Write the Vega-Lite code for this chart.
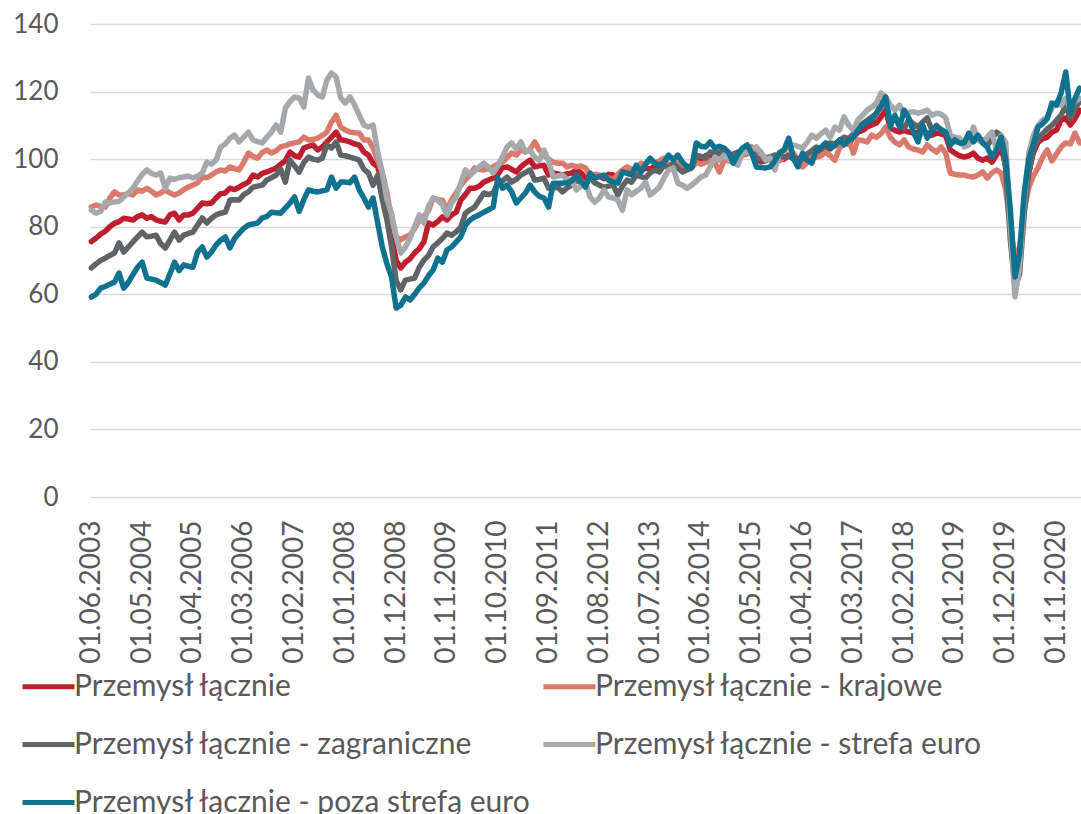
{
  "$schema": "https://vega.github.io/schema/vega-lite/v6.json",
  "autosize": {"type": "none"},
  "padding": {"left": 90, "top": 24, "right": 0, "bottom": 317},
  "width": 991,
  "height": 473,
  "background": "white",
  "config": {"font": "Lato", "view": {"stroke": null}},
  "data": {"values": [
{"d":"01.06.2003","t":75.6,"k":85.8,"z":67.8,"s":84.9,"p":59.2},
{"d":"01.07.2003","t":76.6,"k":86.4,"z":69.0,"s":84.0,"p":60.0},
{"d":"01.08.2003","t":77.8,"k":86.0,"z":70.0,"s":84.5,"p":61.8},
{"d":"01.09.2003","t":78.6,"k":85.8,"z":70.7,"s":87.3,"p":62.3},
{"d":"01.10.2003","t":80.0,"k":88.5,"z":71.5,"s":87.0,"p":63.0},
{"d":"01.11.2003","t":81.0,"k":90.3,"z":72.2,"s":87.3,"p":63.6},
{"d":"01.12.2003","t":81.5,"k":89.4,"z":75.2,"s":87.5,"p":66.3},
{"d":"01.01.2004","t":82.5,"k":89.4,"z":72.5,"s":88.8,"p":61.8},
{"d":"01.02.2004","t":82.3,"k":89.8,"z":74.0,"s":90.0,"p":63.5},
{"d":"01.03.2004","t":82.0,"k":89.4,"z":75.5,"s":91.4,"p":65.8},
{"d":"01.04.2004","t":83.0,"k":90.9,"z":77.0,"s":93.5,"p":68.0},
{"d":"01.05.2004","t":83.5,"k":90.5,"z":78.4,"s":95.5,"p":69.5},
{"d":"01.06.2004","t":82.5,"k":91.4,"z":77.0,"s":96.8,"p":64.8},
{"d":"01.07.2004","t":83.0,"k":90.5,"z":77.2,"s":95.8,"p":64.5},
{"d":"01.08.2004","t":82.0,"k":89.4,"z":77.5,"s":95.3,"p":64.2},
{"d":"01.09.2004","t":81.6,"k":90.0,"z":75.0,"s":95.9,"p":63.5},
{"d":"01.10.2004","t":81.4,"k":90.9,"z":73.7,"s":91.4,"p":62.7},
{"d":"01.11.2004","t":83.5,"k":90.0,"z":76.0,"s":94.4,"p":66.0},
{"d":"01.12.2004","t":84.0,"k":89.4,"z":78.4,"s":94.0,"p":69.5},
{"d":"01.01.2005","t":82.0,"k":90.0,"z":76.0,"s":94.5,"p":67.0},
{"d":"01.02.2005","t":83.5,"k":91.0,"z":77.5,"s":94.7,"p":68.7},
{"d":"01.03.2005","t":83.5,"k":91.8,"z":78.0,"s":95.0,"p":68.3},
{"d":"01.04.2005","t":84.0,"k":92.3,"z":78.4,"s":94.4,"p":68.0},
{"d":"01.05.2005","t":85.5,"k":93.0,"z":80.5,"s":95.0,"p":72.5},
{"d":"01.06.2005","t":87.0,"k":94.7,"z":82.6,"s":95.9,"p":74.0},
{"d":"01.07.2005","t":86.8,"k":94.5,"z":81.1,"s":99.1,"p":71.0},
{"d":"01.08.2005","t":87.0,"k":95.3,"z":82.5,"s":98.5,"p":72.5},
{"d":"01.09.2005","t":88.5,"k":96.2,"z":83.5,"s":99.7,"p":74.6},
{"d":"01.10.2005","t":89.8,"k":96.8,"z":84.0,"s":103.6,"p":76.0},
{"d":"01.11.2005","t":90.0,"k":96.5,"z":84.3,"s":104.5,"p":77.0},
{"d":"01.12.2005","t":91.4,"k":97.7,"z":87.9,"s":106.2,"p":73.7},
{"d":"01.01.2006","t":91.0,"k":97.2,"z":88.0,"s":107.1,"p":76.5},
{"d":"01.02.2006","t":91.7,"k":96.8,"z":87.9,"s":105.1,"p":78.1},
{"d":"01.03.2006","t":92.5,"k":99.1,"z":89.5,"s":106.5,"p":79.5},
{"d":"01.04.2006","t":93.2,"k":101.8,"z":90.3,"s":108.0,"p":80.5},
{"d":"01.05.2006","t":95.3,"k":100.8,"z":91.7,"s":105.7,"p":80.8},
{"d":"01.06.2006","t":94.7,"k":100.3,"z":92.0,"s":105.2,"p":81.1},
{"d":"01.07.2006","t":95.8,"k":102.0,"z":92.3,"s":104.8,"p":82.6},
{"d":"01.08.2006","t":96.2,"k":102.7,"z":93.8,"s":106.5,"p":83.0},
{"d":"01.09.2006","t":96.8,"k":101.8,"z":94.5,"s":108.0,"p":84.3},
{"d":"01.10.2006","t":97.4,"k":102.5,"z":95.3,"s":110.1,"p":84.1},
{"d":"01.11.2006","t":98.5,"k":103.6,"z":97.0,"s":108.0,"p":84.0},
{"d":"01.12.2006","t":99.5,"k":104.0,"z":93.2,"s":115.1,"p":85.5},
{"d":"01.01.2007","t":102.1,"k":104.5,"z":99.7,"s":117.0,"p":87.0},
{"d":"01.02.2007","t":101.0,"k":104.8,"z":98.0,"s":118.4,"p":88.8},
{"d":"01.03.2007","t":100.6,"k":105.1,"z":96.2,"s":118.1,"p":84.5},
{"d":"01.04.2007","t":103.3,"k":106.5,"z":99.0,"s":115.4,"p":88.0},
{"d":"01.05.2007","t":103.8,"k":105.7,"z":100.6,"s":124.0,"p":90.9},
{"d":"01.06.2007","t":104.2,"k":105.8,"z":100.0,"s":120.5,"p":90.5},
{"d":"01.07.2007","t":102.7,"k":106.2,"z":99.7,"s":119.0,"p":90.3},
{"d":"01.08.2007","t":103.6,"k":107.0,"z":100.3,"s":118.4,"p":90.6},
{"d":"01.09.2007","t":105.1,"k":108.0,"z":104.2,"s":123.4,"p":90.9},
{"d":"01.10.2007","t":106.5,"k":111.0,"z":103.3,"s":125.5,"p":94.7},
{"d":"01.11.2007","t":108.0,"k":113.0,"z":105.1,"s":124.3,"p":91.4},
{"d":"01.12.2007","t":105.7,"k":109.5,"z":101.2,"s":118.1,"p":93.2},
{"d":"01.01.2008","t":105.5,"k":108.6,"z":101.0,"s":116.6,"p":93.2},
{"d":"01.02.2008","t":105.1,"k":108.0,"z":100.6,"s":118.4,"p":93.0},
{"d":"01.03.2008","t":104.5,"k":107.8,"z":100.2,"s":116.0,"p":94.7},
{"d":"01.04.2008","t":104.2,"k":107.7,"z":99.7,"s":113.0,"p":90.9},
{"d":"01.05.2008","t":102.1,"k":105.7,"z":97.0,"s":110.1,"p":88.5},
{"d":"01.06.2008","t":101.2,"k":105.7,"z":95.9,"s":109.5,"p":85.8},
{"d":"01.07.2008","t":98.8,"k":103.3,"z":92.3,"s":110.1,"p":88.5},
{"d":"01.08.2008","t":97.7,"k":99.7,"z":95.3,"s":102.1,"p":81.1},
{"d":"01.09.2008","t":93.0,"k":96.0,"z":88.0,"s":96.0,"p":74.0},
{"d":"01.10.2008","t":88.0,"k":90.0,"z":82.0,"s":88.0,"p":69.0},
{"d":"01.11.2008","t":77.0,"k":82.0,"z":74.0,"s":84.0,"p":65.1},
{"d":"01.12.2008","t":70.0,"k":77.0,"z":64.0,"s":77.0,"p":55.9},
{"d":"01.01.2009","t":67.8,"k":76.1,"z":61.3,"s":72.2,"p":56.8},
{"d":"01.02.2009","t":69.5,"k":77.0,"z":64.2,"s":74.0,"p":59.2},
{"d":"01.03.2009","t":70.5,"k":77.5,"z":64.5,"s":76.6,"p":58.3},
{"d":"01.04.2009","t":72.2,"k":79.5,"z":64.8,"s":80.0,"p":60.0},
{"d":"01.05.2009","t":73.5,"k":82.0,"z":68.0,"s":83.5,"p":61.9},
{"d":"01.06.2009","t":75.5,"k":83.0,"z":70.1,"s":81.1,"p":63.3},
{"d":"01.07.2009","t":81.1,"k":84.9,"z":71.5,"s":86.0,"p":65.5},
{"d":"01.08.2009","t":80.5,"k":88.5,"z":74.0,"s":88.5,"p":67.2},
{"d":"01.09.2009","t":81.5,"k":88.0,"z":75.2,"s":87.9,"p":70.7},
{"d":"01.10.2009","t":82.9,"k":87.9,"z":76.5,"s":86.5,"p":69.5},
{"d":"01.11.2009","t":82.0,"k":84.9,"z":78.1,"s":83.5,"p":73.1},
{"d":"01.12.2009","t":83.5,"k":88.0,"z":77.5,"s":87.0,"p":74.0},
{"d":"01.01.2010","t":84.3,"k":90.0,"z":78.5,"s":88.8,"p":75.5},
{"d":"01.02.2010","t":87.9,"k":92.3,"z":79.9,"s":93.0,"p":77.0},
{"d":"01.03.2010","t":89.5,"k":94.0,"z":84.0,"s":96.8,"p":80.5},
{"d":"01.04.2010","t":91.4,"k":95.3,"z":85.0,"s":95.3,"p":82.0},
{"d":"01.05.2010","t":91.4,"k":97.4,"z":85.8,"s":96.5,"p":82.9},
{"d":"01.06.2010","t":92.0,"k":97.0,"z":87.9,"s":97.7,"p":83.5},
{"d":"01.07.2010","t":93.2,"k":96.8,"z":90.0,"s":98.8,"p":84.3},
{"d":"01.08.2010","t":93.8,"k":97.2,"z":89.5,"s":97.5,"p":85.0},
{"d":"01.09.2010","t":94.4,"k":97.7,"z":90.0,"s":95.9,"p":85.8},
{"d":"01.10.2010","t":95.5,"k":98.5,"z":92.9,"s":98.0,"p":94.4},
{"d":"01.11.2010","t":97.4,"k":99.1,"z":93.5,"s":100.6,"p":91.4},
{"d":"01.12.2010","t":97.7,"k":100.5,"z":94.7,"s":103.6,"p":92.3},
{"d":"01.01.2011","t":97.0,"k":101.8,"z":93.2,"s":104.8,"p":90.3},
{"d":"01.02.2011","t":96.2,"k":101.2,"z":94.0,"s":103.0,"p":87.0},
{"d":"01.03.2011","t":97.7,"k":102.7,"z":95.3,"s":105.1,"p":88.5},
{"d":"01.04.2011","t":98.8,"k":102.1,"z":96.0,"s":102.1,"p":90.0},
{"d":"01.05.2011","t":99.7,"k":103.0,"z":96.8,"s":102.7,"p":92.3},
{"d":"01.06.2011","t":97.7,"k":105.1,"z":93.8,"s":100.5,"p":90.3},
{"d":"01.07.2011","t":98.0,"k":102.7,"z":94.0,"s":99.7,"p":89.0},
{"d":"01.08.2011","t":98.2,"k":101.2,"z":94.4,"s":102.7,"p":88.5},
{"d":"01.09.2011","t":95.3,"k":100.0,"z":91.4,"s":99.7,"p":85.8},
{"d":"01.10.2011","t":95.9,"k":99.1,"z":91.5,"s":94.7,"p":92.9},
{"d":"01.11.2011","t":95.6,"k":98.8,"z":91.7,"s":95.0,"p":92.9},
{"d":"01.12.2011","t":95.3,"k":98.8,"z":90.3,"s":95.3,"p":92.9},
{"d":"01.01.2012","t":95.6,"k":97.7,"z":91.5,"s":94.0,"p":93.0},
{"d":"01.02.2012","t":95.9,"k":98.2,"z":92.3,"s":93.8,"p":93.5},
{"d":"01.03.2012","t":96.8,"k":97.7,"z":93.8,"s":90.9,"p":95.3},
{"d":"01.04.2012","t":96.0,"k":98.0,"z":93.0,"s":92.0,"p":93.5},
{"d":"01.05.2012","t":94.4,"k":97.4,"z":92.3,"s":92.9,"p":91.7},
{"d":"01.06.2012","t":95.0,"k":95.3,"z":94.7,"s":88.8,"p":95.9},
{"d":"01.07.2012","t":94.5,"k":95.5,"z":93.0,"s":87.3,"p":94.4},
{"d":"01.08.2012","t":95.0,"k":95.3,"z":92.3,"s":88.5,"p":94.8},
{"d":"01.09.2012","t":94.2,"k":94.8,"z":91.7,"s":90.9,"p":95.3},
{"d":"01.10.2012","t":95.5,"k":94.4,"z":92.0,"s":88.8,"p":93.8},
{"d":"01.11.2012","t":95.3,"k":93.8,"z":92.3,"s":88.5,"p":93.3},
{"d":"01.12.2012","t":94.8,"k":95.5,"z":89.4,"s":87.9,"p":92.9},
{"d":"01.01.2013","t":96.0,"k":96.8,"z":92.0,"s":84.9,"p":96.2},
{"d":"01.02.2013","t":96.8,"k":97.7,"z":93.8,"s":90.9,"p":95.8},
{"d":"01.03.2013","t":96.0,"k":97.0,"z":93.2,"s":89.4,"p":95.3},
{"d":"01.04.2013","t":97.0,"k":96.2,"z":95.3,"s":90.5,"p":98.2},
{"d":"01.05.2013","t":96.5,"k":98.8,"z":94.8,"s":91.4,"p":96.2},
{"d":"01.06.2013","t":97.4,"k":98.5,"z":94.4,"s":93.2,"p":98.5},
{"d":"01.07.2013","t":97.0,"k":99.7,"z":96.0,"s":89.4,"p":100.3},
{"d":"01.08.2013","t":98.0,"k":98.8,"z":96.8,"s":90.5,"p":98.8},
{"d":"01.09.2013","t":97.5,"k":99.5,"z":96.2,"s":91.7,"p":98.2},
{"d":"01.10.2013","t":99.1,"k":100.3,"z":98.2,"s":94.5,"p":99.1},
{"d":"01.11.2013","t":98.0,"k":98.2,"z":97.5,"s":96.8,"p":101.2},
{"d":"01.12.2013","t":98.5,"k":98.5,"z":98.8,"s":97.4,"p":99.7},
{"d":"01.01.2014","t":97.7,"k":98.8,"z":97.4,"s":92.9,"p":101.2},
{"d":"01.02.2014","t":97.0,"k":97.7,"z":96.2,"s":92.3,"p":99.1},
{"d":"01.03.2014","t":97.2,"k":98.0,"z":96.8,"s":91.4,"p":97.7},
{"d":"01.04.2014","t":98.0,"k":97.5,"z":97.4,"s":92.3,"p":97.7},
{"d":"01.05.2014","t":100.5,"k":99.0,"z":101.2,"s":93.5,"p":104.8},
{"d":"01.06.2014","t":99.8,"k":98.5,"z":100.8,"s":94.7,"p":103.8},
{"d":"01.07.2014","t":101.0,"k":99.0,"z":100.3,"s":95.3,"p":103.6},
{"d":"01.08.2014","t":101.2,"k":99.7,"z":102.1,"s":97.7,"p":105.1},
{"d":"01.09.2014","t":100.5,"k":99.0,"z":101.8,"s":100.6,"p":103.3},
{"d":"01.10.2014","t":101.5,"k":96.2,"z":102.0,"s":99.7,"p":103.8},
{"d":"01.11.2014","t":100.8,"k":99.7,"z":102.7,"s":101.2,"p":103.3},
{"d":"01.12.2014","t":100.0,"k":99.5,"z":101.2,"s":100.0,"p":102.0},
{"d":"01.01.2015","t":101.0,"k":99.0,"z":101.5,"s":99.1,"p":98.8},
{"d":"01.02.2015","t":101.5,"k":100.0,"z":102.1,"s":98.2,"p":101.5},
{"d":"01.03.2015","t":102.0,"k":101.2,"z":102.5,"s":101.8,"p":103.3},
{"d":"01.04.2015","t":102.3,"k":101.5,"z":103.3,"s":102.1,"p":104.2},
{"d":"01.05.2015","t":101.8,"k":103.6,"z":102.7,"s":102.5,"p":101.8},
{"d":"01.06.2015","t":99.8,"k":101.8,"z":100.3,"s":103.6,"p":97.7},
{"d":"01.07.2015","t":99.2,"k":101.0,"z":100.0,"s":102.1,"p":97.5},
{"d":"01.08.2015","t":99.5,"k":100.5,"z":99.7,"s":99.7,"p":97.4},
{"d":"01.09.2015","t":100.2,"k":100.6,"z":100.6,"s":100.3,"p":97.7},
{"d":"01.10.2015","t":100.5,"k":100.0,"z":101.2,"s":96.8,"p":99.5},
{"d":"01.11.2015","t":100.0,"k":99.5,"z":100.8,"s":102.1,"p":101.8},
{"d":"01.12.2015","t":100.0,"k":100.6,"z":100.6,"s":102.7,"p":102.7},
{"d":"01.01.2016","t":101.0,"k":101.5,"z":101.0,"s":103.5,"p":106.2},
{"d":"01.02.2016","t":100.0,"k":101.8,"z":100.5,"s":104.2,"p":100.3},
{"d":"01.03.2016","t":99.0,"k":99.7,"z":100.0,"s":103.8,"p":97.7},
{"d":"01.04.2016","t":100.0,"k":97.7,"z":100.6,"s":103.3,"p":101.8},
{"d":"01.05.2016","t":101.0,"k":99.0,"z":101.5,"s":105.0,"p":99.7},
{"d":"01.06.2016","t":101.5,"k":100.6,"z":102.5,"s":107.1,"p":98.8},
{"d":"01.07.2016","t":102.5,"k":100.6,"z":103.6,"s":106.2,"p":102.7},
{"d":"01.08.2016","t":102.0,"k":101.0,"z":103.0,"s":107.5,"p":103.5},
{"d":"01.09.2016","t":103.5,"k":102.1,"z":104.0,"s":108.6,"p":104.8},
{"d":"01.10.2016","t":103.0,"k":101.0,"z":104.8,"s":106.5,"p":103.3},
{"d":"01.11.2016","t":104.5,"k":99.7,"z":104.5,"s":109.5,"p":104.0},
{"d":"01.12.2016","t":104.0,"k":103.3,"z":105.5,"s":108.6,"p":105.7},
{"d":"01.01.2017","t":105.0,"k":104.5,"z":106.5,"s":112.5,"p":104.2},
{"d":"01.02.2017","t":104.5,"k":105.7,"z":106.0,"s":110.0,"p":105.5},
{"d":"01.03.2017","t":106.5,"k":101.8,"z":107.5,"s":108.6,"p":106.5},
{"d":"01.04.2017","t":108.0,"k":105.7,"z":109.5,"s":111.6,"p":108.6},
{"d":"01.05.2017","t":108.5,"k":105.5,"z":110.5,"s":113.0,"p":110.1},
{"d":"01.06.2017","t":109.5,"k":105.1,"z":111.5,"s":114.5,"p":111.0},
{"d":"01.07.2017","t":110.1,"k":107.1,"z":112.5,"s":115.4,"p":111.6},
{"d":"01.08.2017","t":110.7,"k":106.5,"z":113.5,"s":116.6,"p":113.6},
{"d":"01.09.2017","t":112.5,"k":107.5,"z":116.6,"s":119.6,"p":115.5},
{"d":"01.10.2017","t":114.5,"k":109.5,"z":117.5,"s":118.4,"p":118.4},
{"d":"01.11.2017","t":109.2,"k":106.5,"z":111.0,"s":116.0,"p":109.5},
{"d":"01.12.2017","t":108.5,"k":105.0,"z":112.5,"s":114.5,"p":113.0},
{"d":"01.01.2018","t":108.0,"k":104.2,"z":110.5,"s":116.0,"p":109.5},
{"d":"01.02.2018","t":108.5,"k":105.7,"z":109.2,"s":113.0,"p":114.5},
{"d":"01.03.2018","t":108.0,"k":103.6,"z":111.6,"s":113.9,"p":112.2},
{"d":"01.04.2018","t":107.7,"k":103.0,"z":110.5,"s":114.0,"p":108.0},
{"d":"01.05.2018","t":108.0,"k":102.7,"z":109.5,"s":113.6,"p":105.1},
{"d":"01.06.2018","t":108.3,"k":102.1,"z":111.0,"s":114.0,"p":110.1},
{"d":"01.07.2018","t":107.7,"k":104.2,"z":112.2,"s":114.5,"p":106.2},
{"d":"01.08.2018","t":107.1,"k":103.0,"z":108.6,"s":113.0,"p":108.6},
{"d":"01.09.2018","t":107.7,"k":102.1,"z":110.0,"s":113.6,"p":109.5},
{"d":"01.10.2018","t":107.5,"k":103.6,"z":108.5,"s":113.3,"p":108.8},
{"d":"01.11.2018","t":107.0,"k":101.8,"z":108.0,"s":112.2,"p":108.0},
{"d":"01.12.2018","t":102.7,"k":95.9,"z":105.7,"s":107.1,"p":104.2},
{"d":"01.01.2019","t":101.8,"k":95.5,"z":105.2,"s":106.5,"p":105.7},
{"d":"01.02.2019","t":101.0,"k":95.3,"z":105.0,"s":106.2,"p":104.8},
{"d":"01.03.2019","t":100.6,"k":95.3,"z":104.0,"s":103.6,"p":104.8},
{"d":"01.04.2019","t":101.0,"k":94.9,"z":106.5,"s":104.2,"p":107.7},
{"d":"01.05.2019","t":101.8,"k":94.7,"z":107.0,"s":109.5,"p":105.1},
{"d":"01.06.2019","t":100.3,"k":95.3,"z":106.0,"s":105.7,"p":107.1},
{"d":"01.07.2019","t":99.7,"k":96.2,"z":105.7,"s":104.8,"p":104.8},
{"d":"01.08.2019","t":100.3,"k":94.4,"z":104.0,"s":106.5,"p":103.6},
{"d":"01.09.2019","t":99.1,"k":95.9,"z":106.0,"s":108.0,"p":100.6},
{"d":"01.10.2019","t":101.2,"k":96.8,"z":108.0,"s":102.7,"p":102.7},
{"d":"01.11.2019","t":103.3,"k":95.9,"z":107.0,"s":107.0,"p":106.5},
{"d":"01.12.2019","t":98.0,"k":91.0,"z":97.0,"s":105.0,"p":100.0},
{"d":"01.01.2020","t":82.0,"k":80.0,"z":76.0,"s":80.0,"p":85.0},
{"d":"01.02.2020","t":67.0,"k":70.0,"z":62.0,"s":59.2,"p":65.1},
{"d":"01.03.2020","t":70.0,"k":74.0,"z":66.0,"s":68.0,"p":72.0},
{"d":"01.04.2020","t":86.0,"k":85.0,"z":84.0,"s":88.0,"p":90.0},
{"d":"01.05.2020","t":96.0,"k":91.7,"z":96.0,"s":102.0,"p":100.0},
{"d":"01.06.2020","t":102.0,"k":95.0,"z":103.0,"s":107.0,"p":104.5},
{"d":"01.07.2020","t":105.0,"k":97.5,"z":106.0,"s":110.0,"p":109.5},
{"d":"01.08.2020","t":106.0,"k":100.6,"z":107.5,"s":111.6,"p":110.5},
{"d":"01.09.2020","t":106.5,"k":102.7,"z":109.0,"s":112.5,"p":112.0},
{"d":"01.10.2020","t":108.0,"k":99.5,"z":110.0,"s":115.0,"p":116.6},
{"d":"01.11.2020","t":108.6,"k":101.5,"z":111.5,"s":116.9,"p":116.0},
{"d":"01.12.2020","t":111.6,"k":103.6,"z":113.0,"s":116.0,"p":119.6},
{"d":"01.01.2021","t":112.2,"k":104.8,"z":116.0,"s":118.0,"p":125.8},
{"d":"01.02.2021","t":110.1,"k":104.5,"z":112.0,"s":115.0,"p":114.0},
{"d":"01.03.2021","t":112.0,"k":107.7,"z":115.0,"s":117.0,"p":118.0},
{"d":"01.04.2021","t":114.5,"k":104.8,"z":117.0,"s":118.0,"p":121.0}
  ]},
  "transform": [{"fold": ["t", "k", "z", "s", "p"], "as": ["seria", "wartosc"]}],
  "mark": {"type": "line", "strokeWidth": 5.5, "strokeJoin": "round", "strokeCap": "round"},
  "encoding": {
    "x": {
      "field": "d", "type": "ordinal", "sort": null,
      "scale": {"type": "point", "padding": 0.3},
      "axis": {
        "title": null,
        "values": ["01.06.2003","01.05.2004","01.04.2005","01.03.2006","01.02.2007","01.01.2008","01.12.2008","01.11.2009","01.10.2010","01.09.2011","01.08.2012","01.07.2013","01.06.2014","01.05.2015","01.04.2016","01.03.2017","01.02.2018","01.01.2019","01.12.2019","01.11.2020"],
        "labelAngle": -90, "labelAlign": "right", "labelBaseline": "middle",
        "labelFont": "Lato", "labelFontSize": 28, "labelColor": "#595959",
        "labelPadding": 23, "ticks": false, "domain": false, "grid": false,
        "labelOverlap": false, "labelLimit": 300
      }
    },
    "y": {
      "field": "wartosc", "type": "quantitative",
      "scale": {"domain": [0, 140], "nice": false},
      "axis": {
        "title": null, "values": [0, 20, 40, 60, 80, 100, 120, 140],
        "labelFont": "Lato", "labelFontSize": 26, "labelColor": "#595959",
        "labelPadding": 32, "ticks": false, "domain": false,
        "grid": true, "gridColor": "#d9d9d9", "gridWidth": 1.5
      }
    },
    "color": {
      "field": "seria", "type": "nominal",
      "scale": {
        "domain": ["t", "k", "z", "s", "p"],
        "range": ["#be1e2d", "#d97a6c", "#5f6467", "#a6a9ab", "#117290"]
      },
      "legend": {
        "title": null, "orient": "none", "legendX": -70, "legendY": 634,
        "columns": 2, "direction": "horizontal",
        "symbolType": "stroke", "symbolSize": 2704, "symbolStrokeWidth": 5,
        "labelFont": "Lato", "labelFontSize": 30, "labelColor": "#595959",
        "labelOffset": -3, "labelLimit": 1000, "rowPadding": 14, "columnPadding": 1,
        "padding": 0, "offset": 0,
        "labelExpr": "datum.value == 't' ? 'Przemysł łącznie' : datum.value == 'k' ? 'Przemysł łącznie - krajowe' : datum.value == 'z' ? 'Przemysł łącznie - zagraniczne' : datum.value == 's' ? 'Przemysł łącznie - strefa euro' : 'Przemysł łącznie - poza strefą euro'"
      }
    }
  }
}
